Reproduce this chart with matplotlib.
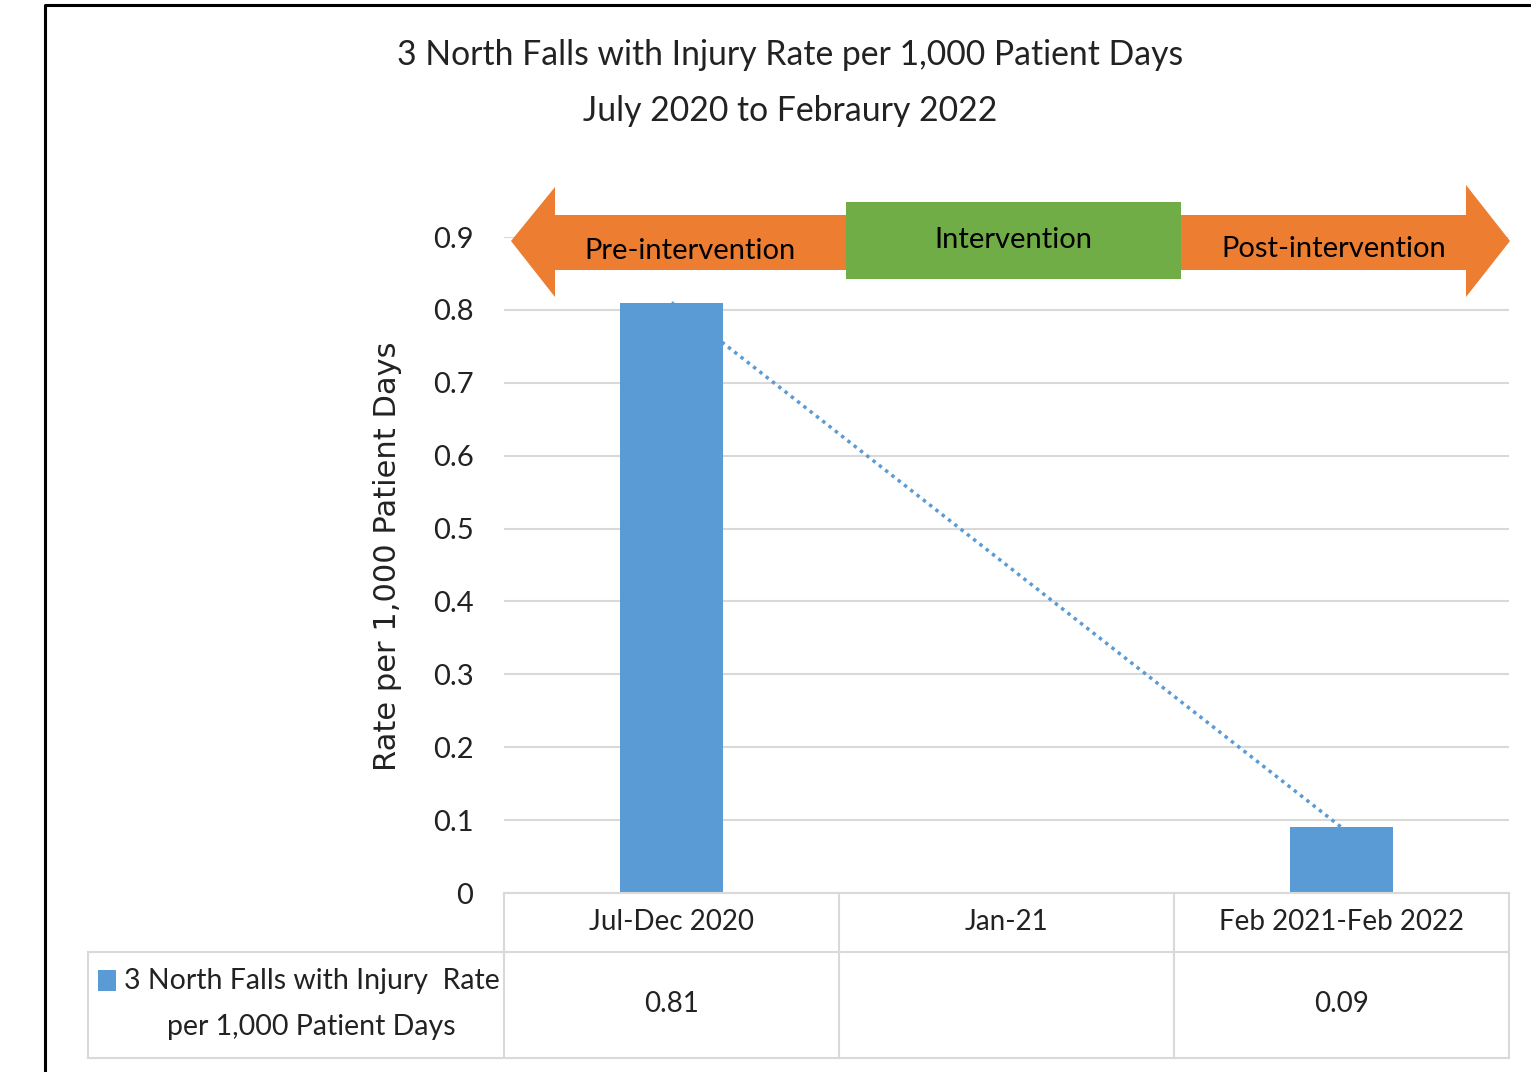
import numpy as np
import matplotlib
matplotlib.use("Agg")
import matplotlib.pyplot as plt
from matplotlib.patches import Rectangle, Polygon

periods = ["Jul-Dec 2020", "Jan-21", "Feb 2021-Feb 2022"]
rates = [0.81, None, 0.09]
series_name = "3 North Falls with Injury  Rate\nper 1,000 Patient Days"
phases = ["Pre-intervention", "Intervention", "Post-intervention"]
title = "3 North Falls with Injury Rate per 1,000 Patient Days\nJuly 2020 to Febraury 2022"
yticks = [0, 0.1, 0.2, 0.3, 0.4, 0.5, 0.6, 0.7, 0.8, 0.9]

BLUE = "#5B9BD5"
ORANGE = "#ED7D31"
GREEN = "#70AD47"
GRID = "#D9D9D9"
NARROW = ["Lato", "DejaVu Sans"]

W, H = 1531, 1072
fig = plt.figure(figsize=(W / 100, H / 100), dpi=100)

# helper: pixel box -> figure fraction
def fpos(x0, y0, x1, y1):
    return [x0 / W, 1 - y1 / H, (x1 - x0) / W, (y1 - y0) / H]

ax = fig.add_axes(fpos(504, 237, 1509, 893))
x = np.arange(len(periods))
vals = np.array([np.nan if v is None else v for v in rates])
ax.bar(x, vals, width=0.31, color=BLUE, zorder=3)

# linear trendline through the available points
ok = ~np.isnan(vals)
k, b = np.polyfit(x[ok], vals[ok], 1)
tx = np.array([x[ok][0], x[ok][-1]])
ax.plot(tx, k * tx + b, ls=(0, (1, 1.3)), color=BLUE, lw=2.5, zorder=4)

ax.set_xlim(-0.5, len(periods) - 0.5)
ax.set_ylim(0, 0.9)
ax.set_yticks(yticks)
ax.set_yticklabels([f"{t:g}" for t in yticks], family=NARROW, fontsize=21, color="#222222")
ax.set_xticks([])
ax.tick_params(axis="y", length=0, pad=22)
ax.grid(axis="y", color=GRID, lw=1.5, zorder=0)
for s in ax.spines.values():
    s.set_visible(False)
ax.set_ylabel("Rate per 1,000 Patient Days", fontsize=22, color="#222222")
ax.yaxis.set_label_coords(-0.116, 0.514)
ax.yaxis.label.set_va("center")

# overlay in pixel coordinates for decorations, table and arrows
ov = fig.add_axes([0, 0, 1, 1], zorder=5)
ov.set_xlim(0, W)
ov.set_ylim(H, 0)
ov.axis("off")
ov.patch.set_alpha(0)

# outer border
ov.plot([45, 45, W + 5], [H + 5, 5, 5], color="black", lw=2.2)

fig.text(790 / W, 1 - 83 / H, title, ha="center", va="center", family=NARROW,
         fontsize=24.3, linespacing=1.95, color="#222222")

# arrows
ov.add_patch(Polygon([(511, 241), (555, 187), (555, 215), (1466, 215), (1466, 185),
                      (1510, 241), (1466, 297), (1466, 270), (555, 270), (555, 297)],
                     closed=True, color=ORANGE, lw=0))
ov.add_patch(Rectangle((846, 202), 335, 77, color=GREEN, lw=0))
ov.text(690, 251, phases[0], ha="center", va="center", family=NARROW, fontsize=21)
ov.text(1013, 240, phases[1], ha="center", va="center", family=NARROW, fontsize=21)
ov.text(1334, 249, phases[2], ha="center", va="center", family=NARROW, fontsize=21)

# data table
col_edges = [504, 839, 1174, 1509]
for y in [893, 952, 1058]:
    x0 = 504 if y == 893 else 88
    ov.plot([x0, 1509], [y, y], color=GRID, lw=1.5)
ov.plot([88, 88], [952, 1058], color=GRID, lw=1.5)
for xe in col_edges:
    ov.plot([xe, xe], [893, 1058], color=GRID, lw=1.5)
for i, p in enumerate(periods):
    cx = (col_edges[i] + col_edges[i + 1]) / 2
    ov.text(cx, 922, p, ha="center", va="center", family=NARROW, fontsize=20, color="#222222")
    if rates[i] is not None:
        ov.text(cx, 1004, f"{rates[i]:.2f}", ha="center", va="center", family=NARROW,
                fontsize=20, color="#222222")
ov.add_patch(Rectangle((98, 970), 18, 21, color=BLUE, lw=0))
line1, line2 = series_name.split("\n")
ov.text(124, 981, line1, ha="left", va="center", family=NARROW, fontsize=20.5, color="#222222")
ov.text(311, 1027, line2, ha="center", va="center", family=NARROW, fontsize=20.5, color="#222222")

fig.savefig("out.png", dpi=100)
